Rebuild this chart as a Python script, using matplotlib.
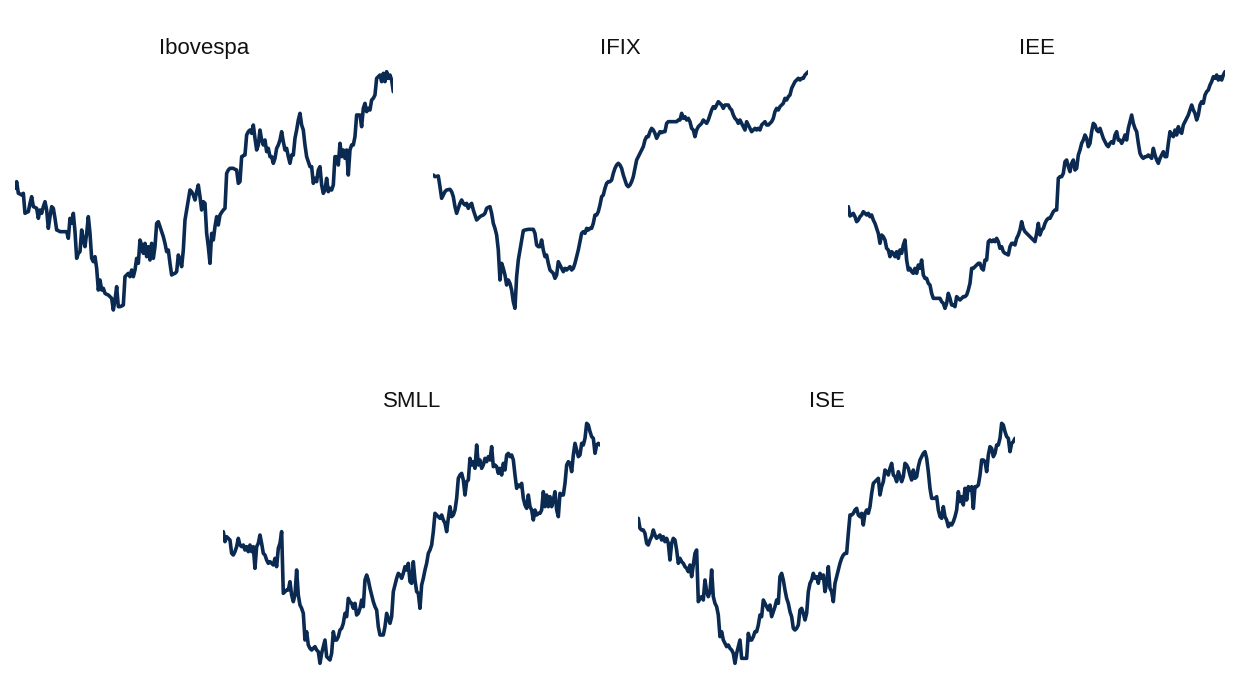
import matplotlib
matplotlib.use("Agg")
import matplotlib.pyplot as plt
import numpy as np
from matplotlib import font_manager

# index levels (arbitrary units, higher = up), evenly spaced in time
titles = ["Ibovespa", "IFIX", "IEE", "SMLL", "ISE"]

ibov = [415, 435, 400, 398, 395, 400, 340, 343, 345, 370, 390, 360, 358, 355, 325, 350, 340, 360, 375, 350,
        295, 330, 360, 355, 325, 290, 288, 285, 285, 285, 285, 285, 265, 325, 310, 340, 285, 205, 220, 225,
        290, 260, 240, 280, 330, 280, 205, 195, 210, 175, 110, 140, 110, 115, 100, 97, 95, 90, 85, 50,
        80, 120, 60, 60, 62, 65, 150, 155, 160, 150, 170, 150, 170, 205, 190, 260, 245, 220, 250, 210,
        240, 200, 250, 205, 240, 310, 315, 300, 285, 270, 250, 225, 230, 190, 155, 158, 160, 165, 215, 200,
        180, 230, 320, 350, 380, 410, 405, 395, 380, 405, 425, 390, 350, 375, 370, 280, 240, 190, 280, 260,
        300, 330, 305, 335, 343, 350, 355, 460, 470, 475, 475, 475, 472, 470, 430, 435, 510, 513, 515, 575,
        585, 590, 580, 605, 565, 530, 545, 590, 560, 545, 560, 525, 535, 510, 510, 490, 505, 535, 545, 560,
        585, 555, 530, 535, 510, 490, 515, 515, 565, 590, 620, 640, 605, 590, 545, 510, 495, 480, 480, 430,
        445, 435, 470, 480, 425, 400, 410, 445, 405, 415, 410, 425, 510, 510, 485, 550, 510, 530, 505, 530,
        455, 530, 545, 545, 570, 635, 635, 635, 600, 655, 670, 645, 655, 650, 680, 685, 695, 745, 750, 755,
        735, 760, 735, 765, 745, 755, 740, 705]

ifix = [455, 450, 451, 452, 420, 385, 395, 405, 410, 411, 412, 405, 390, 360, 340, 355, 370, 380, 370, 365,
        370, 355, 365, 370, 350, 335, 320, 325, 330, 333, 335, 340, 355, 358, 360, 340, 310, 295, 275, 230,
        140, 190, 175, 155, 125, 140, 130, 110, 75, 55, 150, 200, 230, 260, 288, 290, 291, 292, 292, 292,
        292, 280, 245, 240, 240, 260, 230, 210, 215, 190, 170, 165, 160, 145, 155, 195, 185, 175, 165, 175,
        170, 175, 180, 170, 175, 190, 210, 230, 255, 280, 285, 280, 295, 290, 295, 295, 310, 335, 335, 345,
        365, 390, 395, 415, 430, 435, 435, 440, 460, 475, 485, 490, 485, 475, 455, 440, 425, 420, 425, 435,
        450, 475, 500, 510, 520, 530, 540, 560, 570, 570, 585, 595, 590, 580, 565, 575, 585, 582, 585, 585,
        610, 615, 615, 615, 615, 615, 615, 620, 620, 640, 625, 630, 620, 625, 615, 595, 590, 570, 590, 600,
        605, 610, 620, 615, 610, 620, 635, 650, 660, 655, 665, 675, 670, 665, 655, 665, 665, 665, 655, 650,
        635, 625, 620, 610, 620, 610, 600, 590, 615, 605, 595, 585, 590, 595, 590, 595, 590, 605, 610, 615,
        605, 605, 610, 615, 625, 645, 655, 650, 660, 665, 670, 685, 680, 690, 695, 715, 725, 735, 740, 745,
        740, 745, 745, 755, 760, 765]

iee = [360, 332, 335, 340, 330, 315, 320, 330, 335, 345, 340, 335, 340, 330, 335, 320, 310, 295, 280, 250,
       275, 270, 260, 235, 230, 210, 225, 220, 210, 225, 205, 230, 220, 245, 260, 200, 170, 175, 165, 160,
       175, 160, 185, 175, 200, 155, 145, 145, 130, 125, 100, 85, 85, 85, 85, 85, 75, 70, 55, 70,
       100, 85, 65, 65, 60, 90, 85, 80, 85, 90, 90, 95, 110, 130, 175, 175, 180, 185, 190, 190,
       175, 170, 200, 200, 255, 260, 255, 260, 255, 265, 255, 235, 240, 225, 220, 218, 215, 240, 250, 250,
       245, 265, 275, 290, 315, 295, 285, 280, 275, 270, 265, 260, 255, 280, 310, 275, 290, 295, 310, 320,
       325, 325, 335, 345, 350, 350, 445, 450, 450, 460, 495, 500, 480, 465, 490, 500, 470, 475, 515, 530,
       550, 560, 575, 565, 540, 550, 585, 610, 605, 590, 585, 595, 580, 565, 555, 545, 540, 550, 555, 550,
       575, 585, 560, 560, 550, 560, 575, 560, 595, 615, 635, 610, 595, 585, 550, 520, 510, 505, 510, 510,
       515, 510, 505, 535, 515, 500, 490, 505, 515, 525, 510, 510, 550, 585, 575, 570, 590, 575, 600, 585,
       580, 605, 615, 625, 635, 650, 665, 650, 640, 620, 635, 665, 675, 670, 695, 705, 710, 725, 735, 750,
       745, 755, 740, 750, 740, 755, 765]

smll = [435, 405, 420, 415, 410, 370, 365, 375, 390, 415, 395, 390, 395, 380, 390, 375, 395, 375, 390, 325,
        390, 400, 425, 400, 370, 365, 350, 340, 345, 340, 335, 355, 330, 385, 400, 435, 250, 255, 260, 260,
        285, 245, 225, 245, 320, 245, 215, 205, 190, 110, 135, 95, 85, 80, 85, 90, 80, 75, 40, 70,
        90, 110, 60, 55, 50, 70, 135, 110, 110, 120, 140, 145, 160, 190, 180, 235, 225, 220, 205, 220,
        185, 190, 205, 230, 210, 290, 305, 290, 265, 245, 225, 210, 200, 150, 125, 125, 125, 150, 190, 175,
        160, 180, 255, 275, 295, 310, 305, 295, 310, 330, 320, 340, 285, 280, 345, 290, 255, 250, 205, 275,
        295, 320, 340, 370, 380, 395, 435, 490, 485, 480, 475, 485, 470, 460, 435, 475, 510, 480, 485, 500,
        535, 595, 605, 610, 590, 545, 585, 590, 655, 635, 645, 625, 695, 635, 650, 625, 635, 655, 645, 660,
        650, 690, 630, 635, 630, 610, 625, 605, 640, 620, 665, 670, 660, 665, 650, 605, 565, 575, 570, 580,
        535, 515, 505, 545, 510, 500, 470, 500, 485, 490, 490, 500, 555, 510, 545, 510, 540, 510, 530, 555,
        500, 480, 550, 545, 545, 580, 635, 645, 640, 615, 665, 700, 680, 660, 665, 700, 695, 715, 760, 755,
        735, 720, 715, 670, 695, 700, 695]

ise = [475, 445, 440, 440, 430, 400, 395, 410, 420, 440, 425, 415, 420, 425, 410, 420, 405, 415, 400, 350,
       400, 415, 410, 380, 340, 355, 345, 340, 330, 325, 315, 335, 300, 335, 370, 380, 225, 235, 240, 230,
       290, 255, 240, 255, 320, 240, 220, 210, 185, 120, 135, 110, 100, 90, 95, 85, 80, 70, 40, 70,
       90, 110, 55, 55, 55, 55, 130, 110, 110, 120, 135, 135, 155, 185, 180, 230, 220, 210, 200, 215,
       180, 195, 210, 230, 220, 300, 310, 290, 260, 235, 220, 195, 180, 145, 140, 145, 155, 200, 205, 190,
       170, 190, 255, 280, 290, 310, 295, 300, 280, 310, 295, 305, 255, 280, 330, 265, 255, 225, 280, 300,
       320, 340, 355, 365, 370, 370, 430, 485, 485, 490, 500, 505, 485, 480, 490, 455, 490, 500, 490, 510,
       550, 580, 585, 590, 595, 545, 570, 585, 620, 615, 605, 625, 640, 605, 600, 585, 615, 600, 585, 600,
       640, 635, 625, 605, 590, 620, 595, 600, 630, 650, 660, 670, 675, 655, 615, 565, 535, 535, 535, 540,
       500, 480, 475, 510, 480, 470, 450, 460, 455, 465, 480, 500, 555, 525, 540, 515, 565, 530, 570, 560,
       570, 505, 570, 570, 575, 605, 650, 650, 645, 615, 665, 690, 685, 660, 670, 695, 695, 715, 760, 755,
       735, 720, 715, 675, 700, 705, 715]

series = [ibov, ifix, iee, smll, ise]

# panel boxes in pixels: left, right, top
W, H = 1246, 681
boxes = [(15, 393.3, 60), (433.3, 808.3, 60), (848.3, 1225, 60), (223.3, 600, 410), (638.3, 1015, 410)]
title_y = [54, 54, 54, 407, 407]

navy = "#0b2a52"
names = [f.name for f in font_manager.fontManager.ttflist]
fam = "Liberation Sans Narrow" if "Liberation Sans Narrow" in names else "Liberation Sans"
tsize = 19 if fam == "Liberation Sans Narrow" else 16

fig = plt.figure(figsize=(12.46, 6.81), dpi=100)
fig.patch.set_facecolor("white")

for vals, (x0, x1, top), ty, name in zip(series, boxes, title_y, titles):
    ax = fig.add_axes([x0 / W, 1 - (top + 260) / H, (x1 - x0) / W, 260 / H])
    ax.plot(np.arange(len(vals)), vals, color=navy, lw=2.6, solid_joinstyle="round", solid_capstyle="round")
    ax.set_xlim(0, len(vals) - 1)
    ax.set_ylim(20, 800)
    ax.axis("off")
    fig.text((x0 + x1) / 2 / W, 1 - ty / H, name, ha="center", va="baseline",
             fontsize=tsize, family=fam, color="#111111")

plt.savefig("out.png", dpi=100, facecolor="white")
